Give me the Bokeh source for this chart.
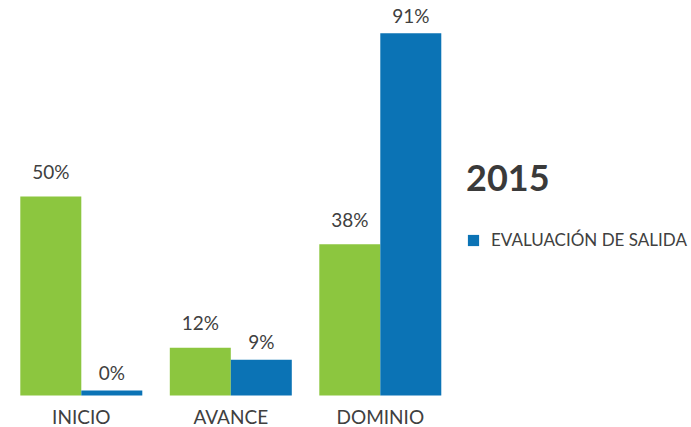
import numpy as np
from bokeh.plotting import figure
from bokeh.models import ColumnDataSource, Range1d, Legend, LegendItem
from bokeh.core.properties import value
from bokeh.embed import file_html
from bokeh.resources import INLINE

categories = ["INICIO", "AVANCE", "DOMINIO"]
entrada = [50, 12, 38]          # green series
salida = [0, 9, 91]             # blue series
legend_title = "2015"
salida_label = "EVALUACIÓN DE SALIDA"

GREEN = "#8CC63F"
BLUE = "#0B73B5"
TEXT = "#404040"
FONT = "Lato"
BAR_W = 0.408
MIN_BAR = 1.25  # minimum visible bar height for 0 values

idx = np.arange(len(categories))
src_g = ColumnDataSource(dict(
    x=idx - BAR_W / 2, top=np.maximum(entrada, MIN_BAR),
    lab=[f"{v}%" for v in entrada]))
src_b = ColumnDataSource(dict(
    x=idx + BAR_W / 2, top=np.maximum(salida, MIN_BAR),
    lab=[f"{v}%" for v in salida]))
src_c = ColumnDataSource(dict(x=idx, y=[0] * len(idx), lab=categories))

p = figure(width=691, height=427, output_backend="svg", toolbar_location=None,
           x_range=Range1d(-0.5405, 4.0817), y_range=Range1d(-8.04, 99.25),
           min_border=0, outline_line_color=None)
p.axis.visible = False
p.grid.visible = False
p.background_fill_color = "white"
p.border_fill_color = "white"

rg = p.vbar(x="x", top="top", bottom=0, width=BAR_W, source=src_g,
            fill_color=GREEN, line_color=None)
rb = p.vbar(x="x", top="top", bottom=0, width=BAR_W, source=src_b,
            fill_color=BLUE, line_color=None)

for s, off in ((src_g, -25), (src_b, -18)):
    p.text(x="x", y="top", text="lab", source=s, text_align="center",
           text_baseline="middle", y_offset=off, text_color=TEXT,
           text_font=value(FONT), text_font_size="19px")

p.text(x="x", y="y", text="lab", source=src_c, text_align="center",
       text_baseline="middle", y_offset=21, text_color=TEXT,
       text_font=value(FONT), text_font_size="19px")

legend = Legend(items=[LegendItem(label=salida_label, renderers=[rb])],
                title=legend_title, location=(466, 177),
                title_text_font=FONT, title_text_font_size="36px",
                title_text_font_style="bold", title_text_color="#3a3a3a",
                title_standoff=30,
                label_text_font=FONT, label_text_font_size="17px",
                label_text_color=TEXT, label_standoff=11,
                glyph_width=14, glyph_height=14, label_height=20,
                padding=0, margin=0, border_line_color=None,
                background_fill_alpha=0)
p.add_layout(legend)

open("out.html", "w").write(file_html(p, INLINE))
